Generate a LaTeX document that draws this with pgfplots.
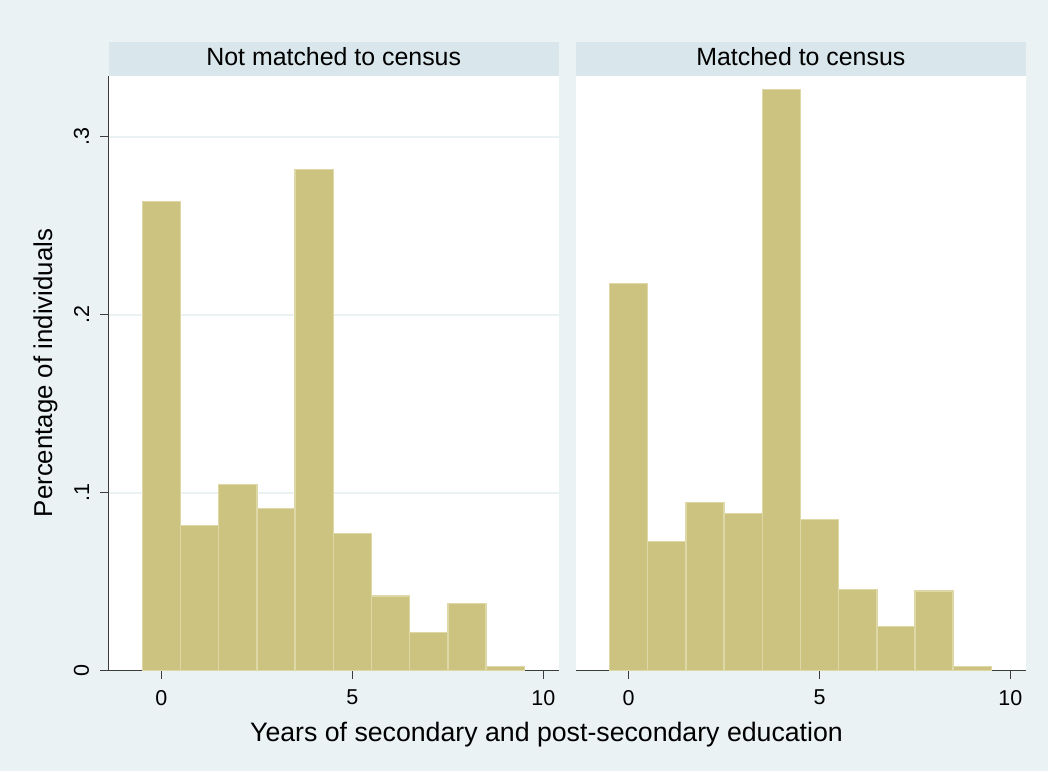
\documentclass[border=0pt]{standalone}
\usepackage{pgfplots}
\pgfplotsset{compat=1.18}
\usepackage{fontspec}
\setmainfont{Liberation Sans}
\definecolor{bgc}{HTML}{EAF2F3}
\definecolor{hdr}{HTML}{D9E6EB}
\definecolor{barfill}{HTML}{CBC37F}
\definecolor{baredge}{HTML}{DDD8A6}
\definecolor{gridc}{HTML}{EAF2F3}
\definecolor{axc}{HTML}{3C3C3C}

\pgfplotstableread{
x y
-0.5 0.2635
0.5 0.0815
1.5 0.1047
2.5 0.0910
3.5 0.2817
4.5 0.0772
5.5 0.0420
6.5 0.0213
7.5 0.0376
8.5 0.0022
9.5 0.0022
}\leftdata
\pgfplotstableread{
x y
-0.5 0.2176
0.5 0.0725
1.5 0.0944
2.5 0.0884
3.5 0.3266
4.5 0.0851
5.5 0.0457
6.5 0.0247
7.5 0.0448
8.5 0.0022
9.5 0.0022
}\rightdata

\pgfplotsset{
  panel/.style={
    scale only axis,
    width=450pt, height=595pt,
    anchor=south west,
    xmin=-1.38, xmax=10.4,
    ymin=0, ymax=0.3343,
    axis background/.style={fill=white},
    axis x line*=bottom,
    axis line style={color=axc, line width=1.4pt},
    tick style={color=axc, line width=1.4pt},
    tick align=outside,
    major tick length=8.5pt,
    xtick={0,5,10},
    xticklabels={0,5,10},
    xticklabel style={font=\fontsize{21.5}{24}\selectfont, anchor=north, inner sep=0pt},
    xticklabel shift=10.8pt,
    ytick={0,0.1,0.2,0.3},
    ymajorgrids,
    grid style={color=gridc, line width=1.6pt},
    /pgf/number format/assume math mode=true,
  }
}

\begin{document}
\begin{tikzpicture}[x=1pt,y=1pt]
\fill[bgc] (0,0) rectangle (1048,771);

\begin{axis}[panel, at={(108.7pt,100.3pt)},
  axis y line*=left,
  yticklabels={0,.1,.2,.3},
  yticklabel style={font=\fontsize{21.5}{24}\selectfont, rotate=90, anchor=south, inner sep=0pt},
  yticklabel shift=11pt,
]
\addplot[ybar interval, fill=barfill, draw=baredge, line width=1.4pt] table[x=x,y=y] {\leftdata};
\end{axis}

\begin{axis}[panel, at={(576pt,100.3pt)}, width=449.7pt,
  axis y line=none,
  yticklabels={},
]
\addplot[ybar interval, fill=barfill, draw=baredge, line width=1.4pt] table[x=x,y=y] {\rightdata};
\end{axis}

% panel headers
\fill[hdr] (108.7,695.3) rectangle (558.7,729.3);
\fill[hdr] (576,695.3) rectangle (1025.7,729.3);
\node[anchor=base, inner sep=0pt, font=\fontsize{24.9}{28}\selectfont] at (333.7,705) {Not matched to census};
\node[anchor=base, inner sep=0pt, font=\fontsize{24.9}{28}\selectfont] at (800.85,705) {Matched to census};

% axis titles
\node[anchor=base, inner sep=0pt, font=\fontsize{26.7}{30}\selectfont] at (546.5,29.3) {Years of secondary and post-secondary education};
\node[anchor=base, rotate=90, inner sep=0pt, font=\fontsize{25.8}{30}\selectfont] at (52,398) {Percentage of individuals};
\end{tikzpicture}
\end{document}
